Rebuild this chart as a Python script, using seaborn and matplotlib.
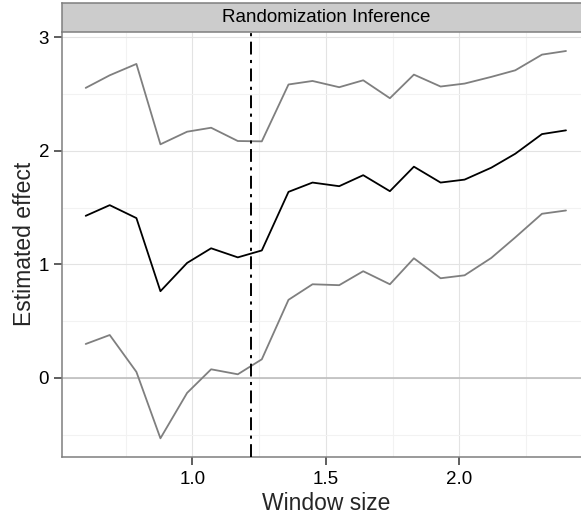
import numpy as np
import pandas as pd
import matplotlib
matplotlib.use("Agg")
import matplotlib.pyplot as plt
from matplotlib.ticker import FixedLocator
import seaborn as sns

window = [0.60, 0.69, 0.79, 0.88, 0.98, 1.07, 1.17, 1.26, 1.36, 1.45,
          1.55, 1.64, 1.74, 1.83, 1.93, 2.02, 2.12, 2.21, 2.31, 2.40]
estimate = [1.428, 1.522, 1.408, 0.764, 1.013, 1.142, 1.062, 1.123, 1.639, 1.721,
            1.689, 1.786, 1.645, 1.861, 1.721, 1.747, 1.852, 1.975, 2.148, 2.181]
upper = [2.555, 2.666, 2.766, 2.058, 2.169, 2.204, 2.087, 2.084, 2.585, 2.616,
         2.561, 2.622, 2.464, 2.672, 2.567, 2.593, 2.652, 2.710, 2.848, 2.880]
lower = [0.299, 0.378, 0.053, -0.532, -0.132, 0.076, 0.032, 0.164, 0.688, 0.825,
         0.817, 0.940, 0.825, 1.054, 0.878, 0.904, 1.057, 1.238, 1.446, 1.475]
cutoff = 1.22
strip_title = "Randomization Inference"
xlabel = "Window size"
ylabel = "Estimated effect"

df = pd.DataFrame({
    "window": window * 3,
    "value": estimate + upper + lower,
    "series": ["estimate"] * 20 + ["upper"] * 20 + ["lower"] * 20,
})

sns.set_theme(style="white")
plt.rcParams["font.family"] = ["Liberation Sans", "DejaVu Sans"]

W, H = 581, 517
fig = plt.figure(figsize=(W / 100, H / 100), dpi=100)
left_px, right_px, bottom_px, top_px = 61.7, 590.0, 456.7, 31.7
ax = fig.add_axes([left_px / W, 1 - bottom_px / H,
                   (right_px - left_px) / W, (bottom_px - top_px) / H])

ax.set_xlim(0.51, 2.49)
ax.set_ylim(-0.694, 3.05)

ax.xaxis.set_major_locator(FixedLocator([1.0, 1.5, 2.0]))
ax.xaxis.set_minor_locator(FixedLocator([0.75, 1.25, 1.75, 2.25]))
ax.yaxis.set_major_locator(FixedLocator([0, 1, 2, 3]))
ax.yaxis.set_minor_locator(FixedLocator([-0.5, 0.5, 1.5, 2.5]))
ax.grid(which="major", color="#E3E3E3", linewidth=0.8)
ax.grid(which="minor", color="#F2F2F2", linewidth=0.8)
ax.set_axisbelow(True)

ax.axhline(0, color="#BEBEBE", linewidth=1.2, zorder=1)

sns.lineplot(data=df, x="window", y="value", hue="series", units="series",
             estimator=None,
             palette={"estimate": "black", "upper": "#7F7F7F", "lower": "#7F7F7F"},
             linewidth=1.3, legend=False, ax=ax, zorder=3)

ax.axvline(cutoff, color="black", linewidth=1.4,
           linestyle=(0, (6.6, 2.8, 1.6, 2.8)), zorder=4)

ax.set_xticklabels(["1.0", "1.5", "2.0"])
ax.set_yticklabels(["0", "1", "2", "3"])
ax.tick_params(axis="both", which="major", direction="out", length=5.5, width=1.1,
               color="#333333", labelsize=13.5, labelcolor="black", pad=3.5,
               bottom=True, left=True)
ax.tick_params(axis="x", which="major", pad=5)
ax.tick_params(axis="both", which="minor", length=0)

for s in ["top", "right"]:
    ax.spines[s].set_visible(False)
for s in ["left", "bottom"]:
    ax.spines[s].set_color("#7F7F7F")
    ax.spines[s].set_linewidth(1.1)

ax.set_xlabel(xlabel, fontsize=16.5, labelpad=3)
ax.set_ylabel(ylabel, fontsize=16.5, labelpad=2)

# facet strip
strip_top_px = 2.7
sax = fig.add_axes([left_px / W, 1 - top_px / H,
                    (right_px - left_px) / W, (top_px - strip_top_px) / H])
sax.set_facecolor("#CCCCCC")
sax.set_xticks([])
sax.set_yticks([])
for s in sax.spines.values():
    s.set_color("#7F7F7F")
    s.set_linewidth(1.1)
sax.text(0.5, 0.48, strip_title, ha="center", va="center", fontsize=13.5,
         transform=sax.transAxes, color="black")

fig.savefig("out.png", dpi=100)
